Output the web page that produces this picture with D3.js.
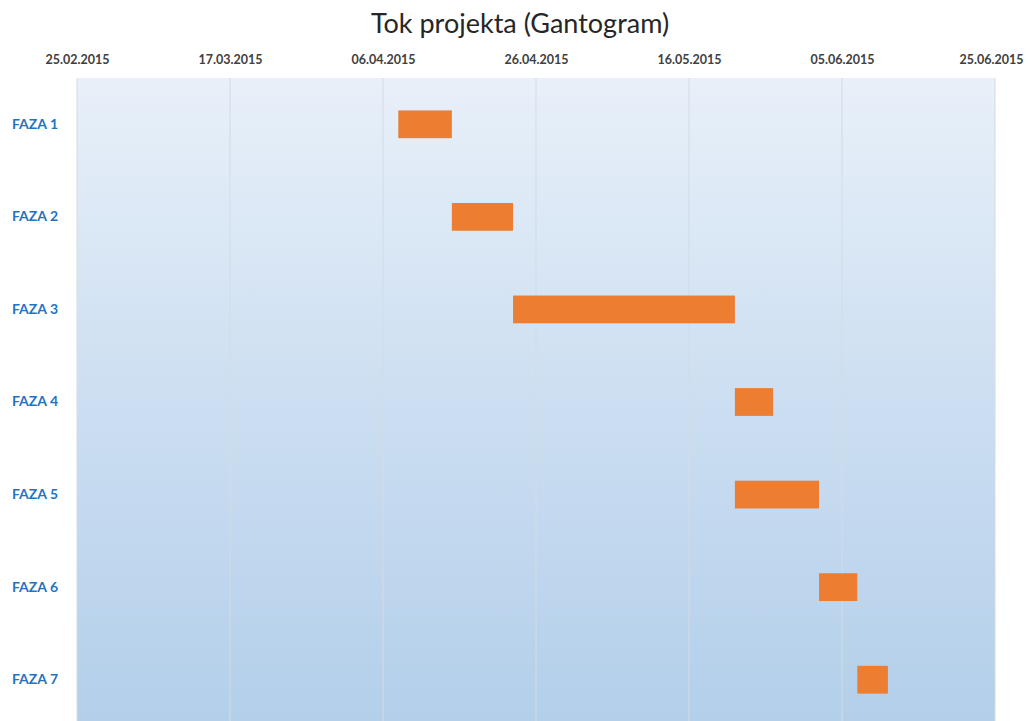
<!DOCTYPE html>
<html>
<head>
<meta charset="utf-8">
<script src="https://cdn.jsdelivr.net/npm/d3@7"></script>
<style>
  body { margin: 0; background: #fff; }
  svg { display: block; }
  .tick text { font-family: Lato, "Open Sans", sans-serif; }
</style>
</head>
<body>
<div id="chart"></div>
<script>
const phases = ["FAZA 1", "FAZA 2", "FAZA 3", "FAZA 4", "FAZA 5", "FAZA 6", "FAZA 7"];
const startDates = ["2015-04-08", "2015-04-15", "2015-04-23", "2015-05-22", "2015-05-22", "2015-06-02", "2015-06-07"];
const endDates = ["2015-04-15", "2015-04-23", "2015-05-22", "2015-05-27", "2015-06-02", "2015-06-07", "2015-06-11"];
const tickDates = ["2015-02-25", "2015-03-17", "2015-04-06", "2015-04-26", "2015-05-16", "2015-06-05", "2015-06-25"];

const parse = d3.utcParse("%Y-%m-%d");
const rows = phases.map((p, i) => ({ phase: p, start: parse(startDates[i]), end: parse(endDates[i]) }));
const ticks = tickDates.map(parse);

const width = 1030;
const height = 721;
const margin = { top: 78, right: 35, bottom: 0, left: 77 };
const innerWidth = width - margin.left - margin.right;
const innerHeight = height - margin.top - margin.bottom;
const bandsHeight = innerHeight + 5; // the last band runs a little past the page edge

const svg = d3.select("#chart").append("svg").attr("width", width).attr("height", height);

const defs = svg.append("defs");
const grad = defs.append("linearGradient")
  .attr("id", "bg-grad")
  .attr("x1", "0%").attr("x2", "0%").attr("y1", "0%").attr("y2", "100%");
grad.append("stop").attr("offset", "0%").attr("stop-color", "#e8f0f9");
grad.append("stop").attr("offset", "45%").attr("stop-color", "#cfe0f2");
grad.append("stop").attr("offset", "100%").attr("stop-color", "#b3cfea");

svg.append("text")
  .attr("x", 520)
  .attr("y", 33)
  .attr("text-anchor", "middle")
  .attr("font-family", "Lato, 'Open Sans', sans-serif")
  .attr("font-size", 27)
  .attr("fill", "#262626")
  .text("Tok projekta (Gantogram)");

const g = svg.append("g").attr("transform", `translate(${margin.left},${margin.top})`);

const x = d3.scaleUtc()
  .domain([ticks[0], ticks[ticks.length - 1]])
  .range([0, innerWidth]);

const y = d3.scaleBand()
  .domain(phases)
  .range([0, bandsHeight])
  .paddingInner(0.7)
  .paddingOuter(0.35);

g.append("rect")
  .attr("width", innerWidth)
  .attr("height", innerHeight)
  .attr("fill", "url(#bg-grad)");

g.selectAll("line.grid")
  .data(ticks)
  .join("line")
  .attr("class", "grid")
  .attr("x1", (d) => x(d))
  .attr("x2", (d) => x(d))
  .attr("y1", 0)
  .attr("y2", innerHeight)
  .attr("stroke", "#d3dbe4")
  .attr("stroke-width", 1);

const xAxis = g.append("g")
  .call(d3.axisTop(x).tickValues(ticks).tickFormat(d3.utcFormat("%d.%m.%Y")).tickSize(0).tickPadding(14));
xAxis.select(".domain").remove();
xAxis.selectAll(".tick text")
  .attr("font-size", 12.5)
  .attr("font-weight", "bold")
  .attr("fill", "#404040")
  .filter((d, i, nodes) => i === nodes.length - 1)
  .attr("text-anchor", "end")
  .attr("x", 28);

const yAxis = g.append("g")
  .call(d3.axisLeft(y).tickSize(0).tickPadding(0));
yAxis.select(".domain").remove();
yAxis.selectAll("text")
  .attr("text-anchor", "start")
  .attr("x", 12 - margin.left)
  .attr("font-size", 14)
  .attr("font-weight", "bold")
  .attr("fill", "#1f73c0");

g.selectAll("rect.bar")
  .data(rows)
  .join("rect")
  .attr("class", "bar")
  .attr("x", (d) => x(d.start))
  .attr("y", (d) => y(d.phase))
  .attr("width", (d) => x(d.end) - x(d.start))
  .attr("height", y.bandwidth())
  .attr("fill", "#ed7d31");
</script>
</body>
</html>
